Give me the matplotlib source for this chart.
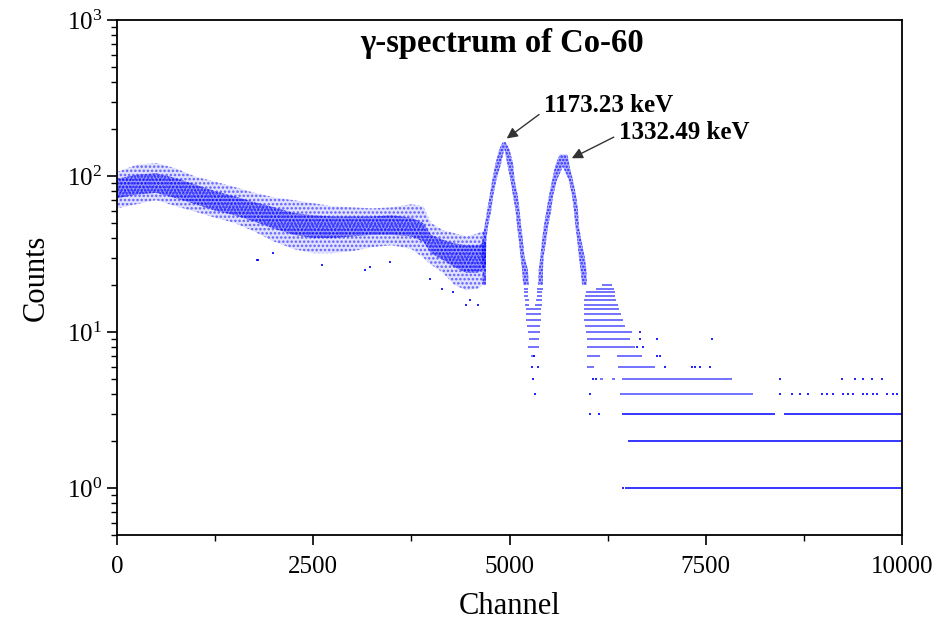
import numpy as np
import matplotlib.pyplot as plt
from matplotlib.ticker import MultipleLocator, LogLocator

plt.rcParams['font.family'] = ['Liberation Serif', 'DejaVu Serif']
plt.rcParams['mathtext.fontset'] = 'stix'
plt.rcParams['hatch.linewidth'] = 1.2

# continuum (Compton region), point-cloud envelopes
body_ch = [0, 250, 500, 750, 1000, 1250, 1500, 1750, 2000, 2250, 2500, 2750,
           3000, 3250, 3500, 3750, 3900, 4000, 4150, 4300, 4450, 4600, 4700]
body_outer_hi = [106, 118, 121, 112, 99, 92, 85, 78, 73, 70, 67, 64,
                 63, 62, 63, 66, 64, 50, 45, 43, 41, 43, 45]
body_outer_lo = [62, 66, 70, 64, 59, 54, 50, 44, 38, 34, 32, 32,
                 33, 35, 36, 34, 30, 27, 24, 20, 18.5, 19, 21]
body_inner_hi = [96, 102, 104, 97, 88, 80, 74, 68, 63, 58, 56, 55,
                 55, 55, 56, 54, 50, 42, 39, 37, 36, 36, 38]
body_inner_lo = [72, 76, 78, 72, 66, 60, 56, 51, 46, 42, 40, 40,
                 41, 42, 42, 41, 38, 32, 29, 26, 24, 24, 26]

# photopeaks: channel extent of each flank at given count levels
p1_counts = [20, 25, 30.4, 38.9, 47.3, 60.5, 73.7, 94.2, 120.5, 150, 165]
p1_left_a = [4655, 4660, 4648, 4652, 4680, 4716, 4745, 4780, 4822, 4872, 4914]
p1_left_b = [4700, 4700, 4700, 4705, 4725, 4768, 4790, 4832, 4893, 4935, 4935]
p1_right_a = [5175, 5160, 5140, 5118, 5097, 5076, 5046, 5012, 4970, 4935, 4935]
p1_right_b = [5245, 5235, 5192, 5170, 5150, 5128, 5108, 5065, 5045, 4996, 4950]

p2_counts = [20, 25, 30.4, 38.9, 47.3, 60.5, 73.7, 94.2, 115, 125, 137]
p2_left_a = [5365, 5372, 5393, 5415, 5436, 5471, 5500, 5543, 5580, 5604, 5642]
p2_left_b = [5425, 5426, 5435, 5468, 5490, 5532, 5553, 5604, 5680, 5680, 5680]
p2_right_a = [5925, 5905, 5884, 5862, 5840, 5820, 5798, 5756, 5680, 5680, 5680]
p2_right_b = [5985, 5980, 5957, 5915, 5885, 5872, 5851, 5808, 5766, 5755, 5738]

# integer-count runs (count, first channel, last channel)
run_count = [1, 2, 3, 3, 4, 5, 5, 5, 6, 6, 7, 7, 8, 9, 10, 11, 12, 13, 14,
             15, 16, 17, 18, 19, 20,
             7, 8, 9, 10, 11, 12, 13, 14, 15, 15, 16, 16, 17, 17, 18, 18, 19, 19]
run_start = [6470, 6510, 6430, 8500, 6410, 6430, 6150, 6300, 5990, 6380, 5985, 6370,
             5985, 5985, 5970, 5960, 5955, 5950, 5945, 5945, 5950, 5960, 5980, 6100, 6180,
             5270, 5240, 5250, 5230, 5220, 5215, 5210, 5205, 5200, 5330, 5195, 5340,
             5190, 5345, 5185, 5350, 5180, 5355]
run_end = [10000, 10000, 8380, 10000, 8100, 7830, 6190, 6340, 6070, 6850, 6150, 6690,
           6600, 6535, 6560, 6470, 6450, 6420, 6400, 6380, 6360, 6350, 6340, 6330, 6310,
           5320, 5370, 5380, 5390, 5390, 5395, 5400, 5405, 5250, 5410, 5245, 5415,
           5240, 5420, 5235, 5420, 5230, 5425]

# isolated channels
dot_ch = [6446, 6025, 6140,
          5325, 6025, 8446, 8599, 8701, 8803, 8981, 9045, 9121, 9248, 9312, 9376,
          9503, 9554, 9631, 9682, 9809, 9885, 9936,
          5300, 6060, 6100, 8446, 9236, 9400, 9503, 9618, 9745,
          5290, 5365, 6980, 7325, 7363, 7427, 7554,
          5310, 6880, 6917, 6624, 6700, 6660, 6880, 7580, 6660,
          1785, 1800, 1983, 2608, 3160, 3223, 3478, 3987, 4136, 4283, 4603, 4450, 4500]
dot_counts = [1, 3, 3,
              4, 4, 4, 4, 4, 4, 4, 4, 4, 4, 4, 4,
              4, 4, 4, 4, 4, 4, 4,
              5, 5, 5, 5, 5, 5, 5, 5, 5,
              6, 6, 6, 6, 6, 6, 6,
              7, 7, 7, 8, 8, 9, 9, 9, 10,
              29, 29, 32, 27, 25, 26, 28, 22, 19, 18, 15, 15, 16]

blue = '#0000ff'

fig = plt.figure(figsize=(9.46, 6.25), dpi=100)
ax = fig.add_axes([0.1237, 0.144, 0.8298, 0.824])

# sparse fringe and dense core of the point cloud
ax.fill_between(body_ch, body_outer_lo, body_outer_hi, facecolor=(0, 0, 1, 0.12),
                edgecolor=(0, 0, 1, 0.55), hatch='....', lw=0)
ax.fill_between(body_ch, body_inner_lo, body_inner_hi, facecolor=(0, 0, 1, 0.3),
                edgecolor=(0, 0, 1, 0.8), hatch='.....', lw=0)

for cts, la, lb, ra, rb in [(p1_counts, p1_left_a, p1_left_b, p1_right_a, p1_right_b),
                            (p2_counts, p2_left_a, p2_left_b, p2_right_a, p2_right_b)]:
    ax.fill_betweenx(cts, la, lb, facecolor=(0, 0, 1, 0.3),
                     edgecolor=(0, 0, 1, 0.8), hatch='.....', lw=0)
    ax.fill_betweenx(cts, ra, rb, facecolor=(0, 0, 1, 0.3),
                     edgecolor=(0, 0, 1, 0.8), hatch='.....', lw=0)

for c, s, e in zip(run_count, run_start, run_end):
    a = 1.0 if c <= 3 else 0.7
    ax.hlines(c, s, e, color=blue, lw=1.1, alpha=a)

ax.plot(dot_ch, dot_counts, 's', color=blue, ms=1.8, mew=0, alpha=0.85)

ax.annotate('1173.23 keV', xy=(4964, 174), xytext=(5440, 285),
            ha='left', va='center', fontsize=18, fontweight='bold',
            arrowprops=dict(arrowstyle='-|>', color='#333333', lw=1.0,
                            mutation_scale=16, shrinkA=2, shrinkB=0, relpos=(0, 0.25)))
ax.annotate('1332.49 keV', xy=(5793, 130), xytext=(6395, 191),
            ha='left', va='center', fontsize=18, fontweight='bold',
            arrowprops=dict(arrowstyle='-|>', color='#333333', lw=1.0,
                            mutation_scale=16, shrinkA=2, shrinkB=0, relpos=(0, 0.4)))

ax.text(0.49, 0.955, 'γ-spectrum of Co-60', transform=ax.transAxes,
        ha='center', va='center', fontsize=23.5, fontweight='bold')

ax.set_yscale('log')
ax.set_ylim(0.5, 1000)
ax.set_xlim(0, 10000)
ax.set_xticks([0, 2500, 5000, 7500, 10000])
ax.xaxis.set_minor_locator(MultipleLocator(1250))
ax.yaxis.set_minor_locator(LogLocator(base=10, subs=np.arange(2, 10)))
ax.tick_params(which='major', direction='out', length=7, width=1.2, labelsize=18)
ax.tick_params(which='minor', direction='out', length=4, width=1.0)
ax.tick_params(axis='x', pad=8)
for sp in ax.spines.values():
    sp.set_linewidth(1.3)

ax.set_xlabel('Channel', fontsize=22, labelpad=10)
ax.set_ylabel('Counts', fontsize=22, labelpad=12)

fig.savefig('out.png', dpi=100)
